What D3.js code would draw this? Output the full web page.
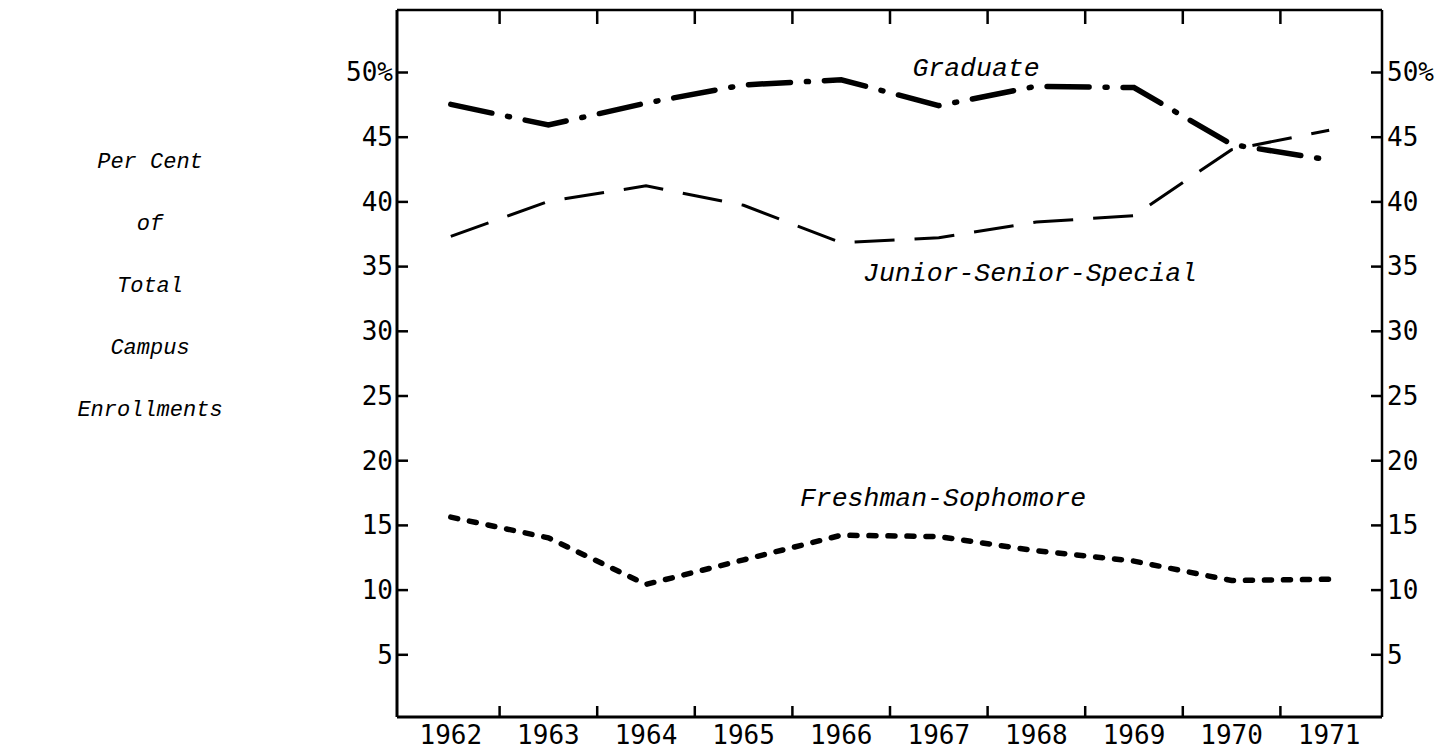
<!DOCTYPE html>
<html><head><meta charset="utf-8">
<script src="https://cdn.jsdelivr.net/npm/d3@7"></script>
<style>html,body{margin:0;padding:0;background:#fff;}svg{display:block;}</style>
</head><body>
<svg id="chart" width="1451" height="750"></svg>
<script>
const years = [1962,1963,1964,1965,1966,1967,1968,1969,1970,1971];
const graduate = [47.5,45.9,47.6,49.0,49.4,47.4,48.9,48.8,44.4,43.2];
const juniorSeniorSpecial = [37.3,40.0,41.2,39.7,36.8,37.2,38.4,38.9,44.0,45.5];
const freshmanSophomore = [15.6,14.0,10.4,12.3,14.2,14.1,13.0,12.2,10.7,10.8];
const yTicks = [5,10,15,20,25,30,35,40,45,50];
const axisTitle = ["Per Cent","of","Total","Campus","Enrollments"];
const seriesLabels = ["Graduate","Junior-Senior-Special","Freshman-Sophomore"];

const svg = d3.select("#chart");
const frame = {left:397, right:1382, top:10, bottom:717};
const x = d3.scaleBand().domain(years).range([402,1378]);
const y = d3.scaleLinear().domain([0,55]).range([719,7.3]);
const cx = d => x(d) + x.bandwidth()/2;

const tickFont = "'DejaVu Sans Mono', monospace";
const itFont = "'Liberation Mono', 'Courier New', monospace";

// frame
const g = svg.append("g").attr("stroke","#000").attr("fill","none");
g.append("line").attr("x1",frame.left).attr("x2",frame.left).attr("y1",frame.top).attr("y2",frame.bottom).attr("stroke-width",3);
g.append("line").attr("x1",frame.left).attr("x2",frame.right).attr("y1",frame.bottom).attr("y2",frame.bottom).attr("stroke-width",3);
g.append("line").attr("x1",frame.left).attr("x2",frame.right).attr("y1",frame.top).attr("y2",frame.top).attr("stroke-width",2.5);
g.append("line").attr("x1",frame.right).attr("x2",frame.right).attr("y1",frame.top).attr("y2",frame.bottom).attr("stroke-width",2.5);

// y axes
const yl = svg.append("g").attr("transform",`translate(${frame.left},0)`)
  .call(d3.axisRight(y).tickValues(yTicks).tickSize(11).tickFormat(d=>""));
const yr = svg.append("g").attr("transform",`translate(${frame.right},0)`)
  .call(d3.axisLeft(y).tickValues(yTicks).tickSize(11).tickFormat(d=>""));
[yl,yr].forEach(a=>{a.select(".domain").remove();a.selectAll("line").attr("stroke","#000").attr("stroke-width",2.5);});
svg.append("g").selectAll("text").data(yTicks).join("text")
  .attr("x",frame.left-4).attr("y",d=>y(d)).attr("dy","0.36em").attr("text-anchor","end")
  .attr("font-family",tickFont).attr("font-size",26).text(d=>d===50?"50%":d);
svg.append("g").selectAll("text").data(yTicks).join("text")
  .attr("x",frame.right+5).attr("y",d=>y(d)).attr("dy","0.36em").attr("text-anchor","start")
  .attr("font-family",tickFont).attr("font-size",26).text(d=>d===50?"50%":d);

// x ticks (at band boundaries) top and bottom
const bounds = years.slice(1).map(d=>x(d));
svg.append("g").selectAll("line").data(bounds).join("line")
  .attr("x1",d=>d).attr("x2",d=>d).attr("y1",frame.bottom).attr("y2",frame.bottom-11)
  .attr("stroke","#000").attr("stroke-width",2.5);
svg.append("g").selectAll("line").data(bounds).join("line")
  .attr("x1",d=>d).attr("x2",d=>d).attr("y1",frame.top).attr("y2",frame.top+14)
  .attr("stroke","#000").attr("stroke-width",2.5);
svg.append("g").selectAll("text").data(years).join("text")
  .attr("x",d=>cx(d)).attr("y",744).attr("text-anchor","middle")
  .attr("font-family",tickFont).attr("font-size",26).text(d=>d);

// lines
const line = vals => d3.line().x((d,i)=>cx(years[i])).y(d=>y(d))(vals);
svg.append("path").attr("d",line(graduate)).attr("fill","none").attr("stroke","#000")
  .attr("stroke-width",5.5).attr("stroke-linecap","round").attr("stroke-dasharray","42,16,2,16");
svg.append("path").attr("d",line(juniorSeniorSpecial)).attr("fill","none").attr("stroke","#000")
  .attr("stroke-width",3).attr("stroke-linecap","butt").attr("stroke-dasharray","40,20");
svg.append("path").attr("d",line(freshmanSophomore)).attr("fill","none").attr("stroke","#000")
  .attr("stroke-width",5.5).attr("stroke-linecap","round").attr("stroke-dasharray","7,12");

// series labels
const lab = [
  {t:seriesLabels[0], x:976, y:76},
  {t:seriesLabels[1], x:1030, y:281},
  {t:seriesLabels[2], x:943, y:506}
];
svg.append("g").selectAll("text").data(lab).join("text")
  .attr("x",d=>d.x).attr("y",d=>d.y).attr("text-anchor","middle")
  .attr("font-family",itFont).attr("font-style","italic").attr("font-size",26.5).text(d=>d.t);

// axis title
svg.append("g").selectAll("text").data(axisTitle).join("text")
  .attr("x",150).attr("y",(d,i)=>168+i*62).attr("text-anchor","middle")
  .attr("font-family",itFont).attr("font-style","italic").attr("font-size",22).text(d=>d);
</script>
</body></html>
